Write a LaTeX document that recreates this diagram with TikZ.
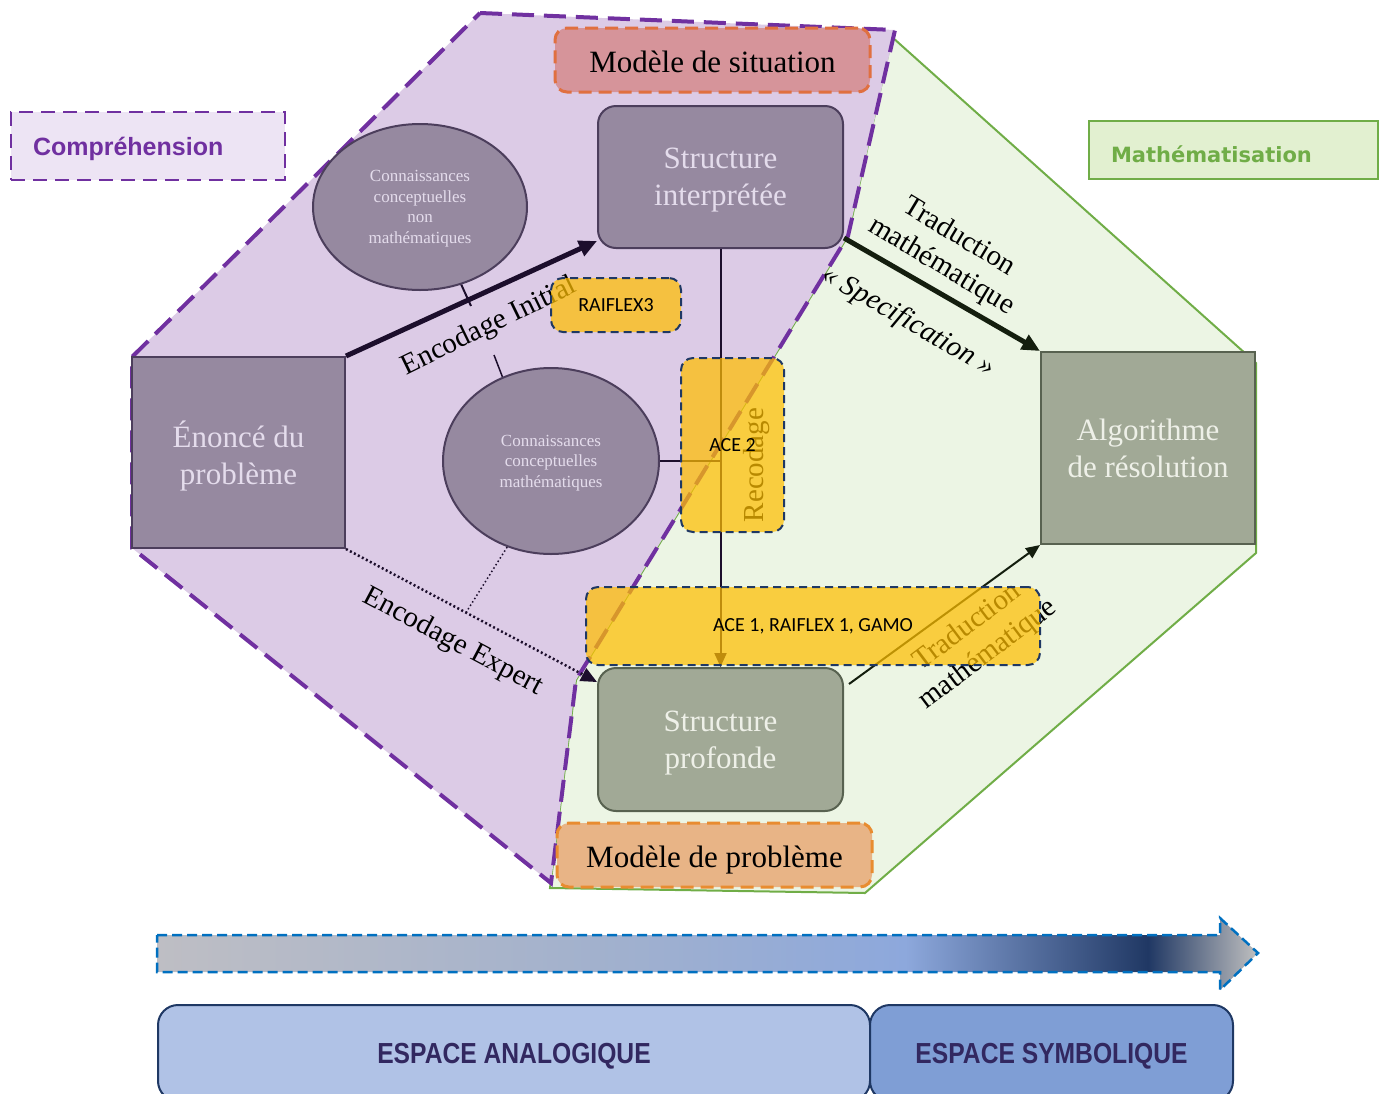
\documentclass[tikz,border=0pt]{standalone}
\usepackage{fontspec}
\setmainfont{Liberation Serif}
\newfontfamily\calib{Carlito}
\newfontfamily\arialf{Liberation Sans}
\newfontfamily\verdf{DejaVu Sans}
\newfontfamily\espf[FakeStretch=0.85]{Liberation Sans}
\usepackage{xcolor}
\usepackage{tikz}
\usetikzlibrary{arrows.meta,shapes.geometric}

\definecolor{purpzone}{RGB}{220,203,230}
\definecolor{purpline}{RGB}{112,48,160}
\definecolor{greenzone}{RGB}{236,245,228}
\definecolor{greenline}{RGB}{112,173,71}
\definecolor{compfill}{RGB}{237,228,244}
\definecolor{mathfill}{RGB}{226,240,208}
\definecolor{situfill}{RGB}{214,148,154}
\definecolor{situline}{RGB}{224,112,64}
\definecolor{problfill}{RGB}{232,180,134}
\definecolor{problline}{RGB}{232,140,48}
\definecolor{boxpurp}{RGB}{150,137,160}
\definecolor{boxpurpline}{RGB}{76,62,92}
\definecolor{boxgreen}{RGB}{161,169,150}
\definecolor{boxgreenline}{RGB}{88,98,80}
\definecolor{lighttext}{RGB}{228,220,236}
\definecolor{lightgreentext}{RGB}{238,240,232}
\definecolor{yellowbox}{RGB}{255,190,0}
\definecolor{navyline}{RGB}{31,56,100}
\definecolor{darkpurp}{RGB}{28,14,44}
\definecolor{darkgreen}{RGB}{20,30,14}
\definecolor{anafill}{RGB}{176,194,230}
\definecolor{symfill}{RGB}{127,158,213}
\definecolor{esptext}{RGB}{50,40,96}
\definecolor{barblue}{RGB}{0,112,192}
\definecolor{barA}{RGB}{190,190,196}
\definecolor{barB}{RGB}{162,177,205}
\definecolor{barC}{RGB}{141,168,220}
\definecolor{barD}{RGB}{32,56,100}
\definecolor{barE}{RGB}{192,192,192}

\pgfdeclarehorizontalshading{espbar}{100bp}{color(0bp)=(barA); color(25bp)=(barA); color(45bp)=(barB); color(59bp)=(barC); color(70bp)=(barD); color(75bp)=(barE); color(100bp)=(barE)}

\begin{document}
\begin{tikzpicture}[x=1pt, y=-1pt,
		purpbox/.style={fill=boxpurp, draw=boxpurpline, line width=2pt, text=lighttext, font=\fontsize{31}{37}\selectfont, align=center, text depth=0pt},
		greenbox/.style={fill=boxgreen, draw=boxgreenline, line width=2pt, text=lightgreentext, font=\fontsize{31}{37}\selectfont, align=center, text depth=0pt},
		knowl/.style={ellipse, fill=boxpurp, draw=boxpurpline, line width=2pt, text=lighttext, font=\fontsize{17}{20.5}\selectfont, align=center, text depth=0pt},
		modelbox/.style={rounded corners=12pt, line width=3pt, dash pattern=on 13pt off 7pt, font=\fontsize{31}{37}\selectfont, minimum width=315, minimum height=64, text depth=0pt, text height=24pt},
		tagbox/.style={draw=navyline, line width=2pt, dash pattern=on 8pt off 5pt, fill=yellowbox, fill opacity=.72, text opacity=1, rounded corners=12pt, font=\calib\fontsize{20}{24}\selectfont},
		lbl/.style={font=\fontsize{29}{34}\selectfont, align=center},
		esp/.style={draw=navyline, line width=2pt, rounded corners=20pt, font=\espf\bfseries\fontsize{29}{34}\selectfont, text=esptext, minimum height=96, text depth=0pt}]
		\useasboundingbox (0,0) rectangle (1384,1093);
		\clip (0,0) rectangle (1384,1093);

		\draw[greenline, line width=2pt, fill=greenzone] (892,37) -- (1256,363) -- (1256,553) -- (865,893) -- (550,888) -- (576,680) -- (848,236) -- cycle;
		\fill[purpzone] (480,13) -- (895,30) -- (848,236) -- (576,680) -- (551,883) -- (132,548) -- (132,357) -- cycle;
		\draw[purpline, line width=4pt, dash pattern=on 22pt off 10pt] (480,13) -- (895,30) -- (848,236) -- (576,680) -- (551,883) -- (132,548) -- (132,357) -- cycle;

		\node[draw=purpline, line width=2.5pt, dash pattern=on 14pt off 8pt, fill=compfill, text=purpline, font=\arialf\bfseries\fontsize{25}{28}\selectfont, minimum height=68, inner xsep=22pt, text width=230pt, align=left, text depth=0pt] (comp) at (148,146) {Compréhension};
		\node[draw=greenline, line width=2.5pt, fill=mathfill, text=greenline, font=\verdf\bfseries\fontsize{21}{26}\selectfont, minimum height=58, inner xsep=22pt, text width=245pt, align=left, text depth=0pt, text height=24pt] (math) at (1233.5,150) {Mathématisation};

		\node[modelbox, fill=situfill, draw=situline] (situ) at (712.5,60) {Modèle de situation};
		\node[modelbox, fill=problfill, draw=problline] (probl) at (714.5,855) {Modèle de problème};

		\node[purpbox, rounded corners=18pt, minimum width=245, minimum height=142] (interp) at (720.5,177) {Structure\\interprétée};
		\node[greenbox, rounded corners=18pt, minimum width=245, minimum height=143] (profonde) at (720.5,739.5) {Structure\\profonde};
		\node[purpbox, minimum width=213, minimum height=191] (enonce) at (238.5,452.5) {Énoncé du\\problème};
		\node[greenbox, minimum width=214, minimum height=192] (algo) at (1148,448) {Algorithme\\de résolution};
		\node[knowl, minimum width=214, minimum height=166] (ell1) at (420,207) {Connaissances\\conceptuelles\\non\\mathématiques};
		\node[knowl, minimum width=216, minimum height=186] (ell2) at (551,461) {Connaissances\\conceptuelles\\mathématiques};

		\coordinate (tickA) at (471,306);
		\coordinate (tickB) at (494,355);
		\draw[darkpurp, line width=2pt, -{Triangle[length=14pt,width=12pt]}] (interp.south) -- (profonde.north);
		\draw[darkpurp, line width=2pt] (ell2.east) -- (ell2.east -| interp.south);
		\draw[darkpurp, line width=5pt, -{Triangle[length=18pt,width=16pt]}] (enonce.north east) -- ([yshift=8pt]interp.south west);
		\draw[darkpurp, line width=2pt] (ell1.-62) -- (tickA);
		\draw[darkpurp, line width=1.5pt] (ell2.120) -- (tickB);
		\draw[darkpurp, line width=2.5pt, dash pattern=on 2pt off 2.5pt, -{Triangle[length=16pt,width=14pt]}] (enonce.south east) -- coordinate[pos=.478] (expmid) ([yshift=-15pt]profonde.north west);
		\draw[darkpurp, line width=1.5pt, dash pattern=on 1.5pt off 2.5pt] (ell2.-117) -- (expmid);
		\draw[darkgreen, line width=5pt, -{Triangle[length=18pt,width=16pt]}] ([yshift=11pt]interp.south east) -- (algo.north west);
		\draw[darkgreen, line width=2pt, -{Triangle[length=14pt,width=12pt]}] ([xshift=5pt,yshift=-17pt]profonde.north east) -- (algo.south west);

		\node[lbl, rotate=26] (lblinit) at (489,327) {Encodage Initial};
		\node[lbl, rotate=-28] (lblexp) at (453,642) {Encodage Expert};
		\node[lbl, rotate=-31] (lbltrad) at (950,252) {Traduction\\mathématique};
		\node[lbl, rotate=-30] (lblspec) at (908,322) {\itshape « Specification »};
		\node[lbl, rotate=37] (lbltradb) at (978,641) {Traduction\\mathématique};
		\node[lbl, rotate=90] (lblrec) at (757,465) {Recodage};

		\node[tagbox, minimum width=130, minimum height=54] (raif3) at (616,305) {RAIFLEX3};
		\node[tagbox, minimum width=103, minimum height=174] (ace2) at (732.5,445) {ACE 2};
		\node[tagbox, minimum width=454, minimum height=78] (ace1) at (813,626) {ACE 1, RAIFLEX 1, GAMO};

		\shade[shading=espbar, draw=barblue, line width=2.5pt, dash pattern=on 10pt off 5pt] (157,935) -- (1220,935) -- (1220,918) -- (1258,953) -- (1220,990) -- (1220,972) -- (157,972) -- cycle;
		\node[esp, fill=anafill, minimum width=712] (ana) at (514,1053) {ESPACE ANALOGIQUE};
		\node[esp, fill=symfill, minimum width=363] (sym) at (1051.5,1053) {ESPACE SYMBOLIQUE};
	\end{tikzpicture}
\end{document}
